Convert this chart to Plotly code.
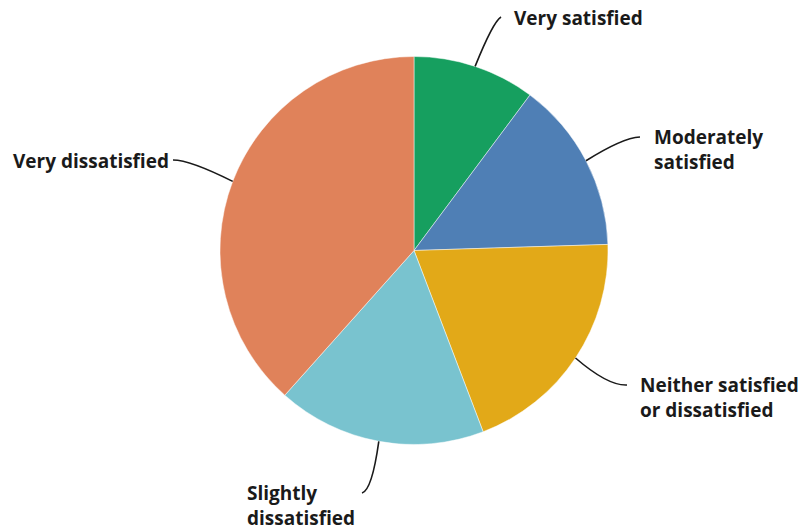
import math
import plotly.graph_objects as go

labels = ["Very satisfied", "Moderately satisfied", "Neither satisfied or dissatisfied",
          "Slightly dissatisfied", "Very dissatisfied"]
label_text = ["Very satisfied", "Moderately<br>satisfied", "Neither satisfied<br>or dissatisfied",
              "Slightly<br>dissatisfied", "Very dissatisfied"]
values = [10.2, 14.3, 19.7, 17.4, 38.4]
colors = ["#169f5f", "#4f7fb5", "#e2a918", "#79c3cf", "#e0825a"]

W, H = 803, 531
CX, CY, R = 414, 250.5, 194

# label text anchors (pixels) and leader-line end/control points
label_pos = [(512, 18, "left"), (652, 149, "left"), (638, 397, "left"),
             (245, 505, "left"), (171, 161, "right")]
leader_end = [(501, 17), (640, 137), (627, 385), (362, 493), (173, 160)]
leader_ctrl = [(493, 22), (622, 138), (608, 386), (372, 490), (190, 160)]

fig = go.Figure()
fig.add_trace(go.Pie(
    labels=labels, values=values, sort=False, direction="clockwise", rotation=0,
    marker=dict(colors=colors, line=dict(color="rgba(255,255,255,0.6)", width=0.8)),
    textinfo="none", hoverinfo="label+percent", showlegend=False,
    domain=dict(x=[(CX - R) / W, (CX + R) / W], y=[1 - (CY + R) / H, 1 - (CY - R) / H]),
))

# invisible trace to activate pixel axes
fig.add_trace(go.Scatter(x=[0, W], y=[0, H], mode="markers", marker=dict(opacity=0),
                         hoverinfo="skip", showlegend=False))

total = sum(values)
cum = 0
shapes = []
annotations = []
for i, v in enumerate(values):
    mid = (cum + v / 2) / total * 2 * math.pi
    cum += v
    sx = CX + R * math.sin(mid)
    sy = CY - R * math.cos(mid)
    ex, ey = leader_end[i]
    qx, qy = leader_ctrl[i]
    shapes.append(dict(type="path", xref="x", yref="y",
                       path=f"M {sx:.1f},{sy:.1f} Q {qx},{qy} {ex},{ey}",
                       line=dict(color="#1a1a1a", width=1.6)))
    lx, ly, anchor = label_pos[i]
    annotations.append(dict(x=lx, y=ly, xref="x", yref="y", text=label_text[i],
                            showarrow=False, xanchor=anchor, yanchor="middle", align="left",
                            font=dict(family="Open Sans", size=19, color="#1a1a1a", weight=700)))

fig.update_layout(
    width=W, height=H, margin=dict(l=0, r=0, t=0, b=0),
    paper_bgcolor="white", plot_bgcolor="white",
    xaxis=dict(range=[0, W], visible=False, domain=[0, 1], fixedrange=True),
    yaxis=dict(range=[H, 0], visible=False, domain=[0, 1], fixedrange=True),
    shapes=shapes, annotations=annotations,
)

fig.write_html("out.html")
